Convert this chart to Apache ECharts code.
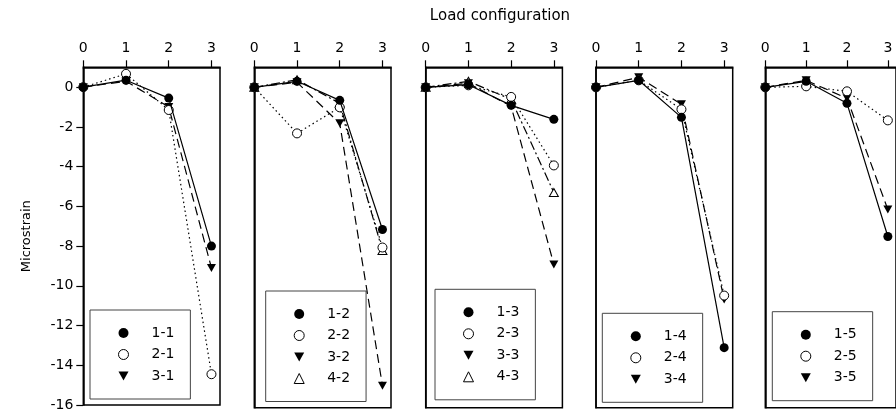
<!DOCTYPE html>
<html>
<head>
<meta charset="utf-8">
<script src="https://cdn.jsdelivr.net/npm/echarts@6/dist/echarts.min.js"></script>
<style>
html, body { margin: 0; padding: 0; background: #fff; }
#chart { width: 896px; height: 412px; }
</style>
</head>
<body>
<div id="chart"></div>
<script>
// load configurations (x) and tick values
var loadConfig = [0, 1, 2, 3]
var xTicks = [0, 1, 2, 3]
var yTicks = [-16, -14, -12, -10, -8, -6, -4, -2, 0]

// microstrain readings, one array per gauge
var g1_1 = [0, 0.35, -0.55, -8.0]
var g2_1 = [0, 0.67, -1.15, -14.45]
var g3_1 = [0, 0.3, -1.0, -9.1]

var g1_2 = [0, 0.3, -0.65, -7.1]
var g2_2 = [0, -2.3, -1.0, -8.0]
var g3_2 = [0, 0.25, -1.8, -14.9]
var g4_2 = [0, 0.38, -0.8, -8.15]

var g1_3 = [0, 0.13, -0.9, -1.6]
var g2_3 = [0, 0.1, -0.48, -3.9]
var g3_3 = [0, 0.2, -0.95, -8.85]
var g4_3 = [0, 0.3, -0.6, -5.25]

var g1_4 = [0, 0.35, -1.5, -13.0]
var g2_4 = [0, 0.35, -1.1, -10.4]
var g3_4 = [0, 0.5, -0.85, -10.6]

var g1_5 = [0, 0.3, -0.8, -7.45]
var g2_5 = [0, 0.05, -0.2, -1.65]
var g3_5 = [0, 0.35, -0.55, -6.1]

var panelNames = [
    ['1-1', '2-1', '3-1'],
    ['1-2', '2-2', '3-2', '4-2'],
    ['1-3', '2-3', '3-3', '4-3'],
    ['1-4', '2-4', '3-4'],
    ['1-5', '2-5', '3-5']
]
var panelValues = [
    [g1_1, g2_1, g3_1],
    [g1_2, g2_2, g3_2, g4_2],
    [g1_3, g2_3, g3_3, g4_3],
    [g1_4, g2_4, g3_4],
    [g1_5, g2_5, g3_5]
]

var font = 'DejaVu Sans'
var downTri = 'path://M0,0 L10,0 L5,9 Z'

// marker + line style by gauge row (1..4)
var rowStyle = [
    { symbol: 'circle', size: 9, fill: '#000', line: 'solid' },
    { symbol: 'circle', size: 9, fill: '#fff', line: [1.5, 3] },
    { symbol: downTri, size: [9, 8], fill: '#000', line: [9, 5] },
    { symbol: 'triangle', size: [9, 8], fill: '#fff', line: [9, 3, 2, 3] }
]

var gridLeft = [83.3, 254.3, 425.7, 596, 765.3]
var legendPos = [[90, 310], [265.7, 291], [435, 289.3], [602.3, 313.3], [772.3, 311.7]]

var grids = [], xAxes = [], yAxes = [], legends = [], series = []

for (var p = 0; p < 5; p++) {
    grids.push({
        left: gridLeft[p], top: 67.3, width: 136.7, height: 340.4,
        show: true, borderColor: '#000', borderWidth: 1.5, backgroundColor: 'transparent'
    })
    xAxes.push({
        type: 'value', gridIndex: p, position: 'top', min: 0, max: 3.2,
        axisLine: { show: true, onZero: false, lineStyle: { color: '#000', width: 1.5 } },
        axisTick: { show: true, length: 7, customValues: xTicks, lineStyle: { color: '#000', width: 1.2 } },
        axisLabel: { customValues: xTicks, color: '#000', fontSize: 14, fontFamily: font, margin: 12 },
        splitLine: { show: false }
    })
    yAxes.push({
        type: 'value', gridIndex: p, min: -16, max: 1,
        name: p == 0 ? 'Microstrain' : '',
        nameLocation: 'middle', nameGap: 50,
        nameTextStyle: { color: '#000', fontSize: 13, fontFamily: font },
        axisLine: { show: true, onZero: false, lineStyle: { color: '#000', width: 1.5 } },
        axisTick: { show: p == 0, length: 7, customValues: yTicks, lineStyle: { color: '#000', width: 1.2 } },
        axisLabel: { show: p == 0, customValues: yTicks, color: '#000', fontSize: 14, fontFamily: font, margin: 10 },
        splitLine: { show: false }
    })

    var legendData = []
    panelNames[p].forEach(function (name, r) {
        var st = rowStyle[r]
        var open = st.fill == '#fff'
        series.push({
            name: name, type: 'line', xAxisIndex: p, yAxisIndex: p,
            data: loadConfig.map(function (x, i) { return [x, panelValues[p][r][i]] }),
            symbol: st.symbol, symbolSize: st.size,
            itemStyle: { color: st.fill, borderColor: '#000', borderWidth: open ? 1 : 0 },
            lineStyle: { color: '#000', width: 1.2, type: st.line },
            emphasis: { disabled: true },
            z: 10 - r
        })
        legendData.push({
            name: name,
            icon: st.symbol,
            itemStyle: { color: st.fill, borderColor: '#000', borderWidth: open ? 1 : 0 }
        })
    })

    legends.push({
        left: legendPos[p][0], top: legendPos[p][1], orient: 'vertical',
        data: legendData, itemWidth: 10, itemHeight: 10, itemGap: 7.5,
        padding: [16, 16, 16, 28],
        borderColor: '#444', borderWidth: 1, backgroundColor: '#fff',
        selectedMode: false,
        textStyle: { fontSize: 14, color: '#000', fontFamily: font, lineHeight: 14, padding: [0, 0, 0, 18] }
    })
}

var myChart = echarts.init(document.getElementById('chart'))
myChart.setOption({
    animation: false,
    backgroundColor: '#fff',
    title: {
        text: 'Load configuration', left: 495, top: 4, textAlign: 'center',
        textStyle: { fontSize: 15, fontWeight: 'normal', color: '#000', fontFamily: font }
    },
    grid: grids,
    xAxis: xAxes,
    yAxis: yAxes,
    legend: legends,
    series: series
})
</script>
</body>
</html>
